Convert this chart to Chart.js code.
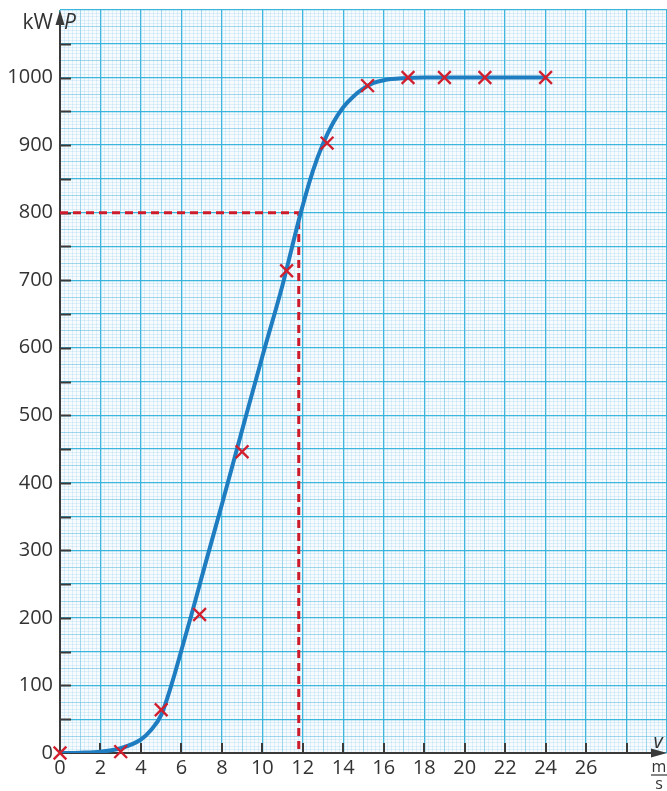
<!DOCTYPE html>
<html>
<head>
<meta charset="utf-8">
<script src="https://cdn.jsdelivr.net/npm/chart.js@4/dist/chart.umd.min.js"></script>
<style>
  html, body { margin: 0; padding: 0; background: #ffffff; }
  #wrap { width: 667px; height: 791px; position: relative; }
</style>
</head>
<body>
<div id="wrap"><canvas id="c"></canvas></div>
<script>
// Measured power of the wind turbine (crosses)
const speed = [0, 3, 5, 6.9, 9, 11.2, 13.2, 15.2, 17.2, 19, 21, 24];
const power = [0, 2, 64, 205, 446, 714, 903, 988, 1000, 1000, 1000, 1000];

// Hand-drawn characteristic curve through the measurements
const curveSpeed = [0, 1, 2, 3, 4, 4.5, 5, 5.5, 6, 6.5, 7, 8, 9, 10, 11, 11.9, 12.5, 13, 13.5, 14, 14.5, 15, 15.5, 16, 17, 18, 20, 22, 24];
const curvePower = [0, 0.5, 2, 7, 20, 34, 56, 100, 152, 205, 260, 368, 478, 587, 693, 800, 862, 902, 933, 956, 972, 984, 992, 996, 999, 1000, 1000, 1000, 1000];

// Reading: 800 kW is reached at about 11.8 m/s
const readSpeed = 11.8;
const readPower = 800;

// Labelled ticks
const xTickLabels = [0, 2, 4, 6, 8, 10, 12, 14, 16, 18, 20, 22, 24, 26];
const yTickLabels = [0, 100, 200, 300, 400, 500, 600, 700, 800, 900, 1000];

const AXIS = '#3a3a3a';
const FONT = "'Open Sans', 'Noto Sans', sans-serif";

function paperColor(level) {
  if (level === 2) return 'rgba(50,178,218,0.95)';
  if (level === 1) return 'rgba(90,185,222,0.55)';
  return 'rgba(130,195,232,0.32)';
}
function paperWidth(level) {
  return level === 2 ? 1.3 : (level === 1 ? 1 : 0.7);
}
function xLevel(v) {
  const k = Math.round(v * 5);
  return k % 10 === 0 ? 2 : (k % 5 === 0 ? 1 : 0);
}
function yLevel(v) {
  const k = Math.round(v / 5);
  return k % 10 === 0 ? 2 : (k % 5 === 0 ? 1 : 0);
}

const paperAxes = {
  id: 'paperAxes',
  beforeDraw(chart) {
    const { ctx, chartArea: a } = chart;
    ctx.save();
    ctx.fillStyle = '#f7fbfe';
    ctx.fillRect(a.left, a.top, a.right - a.left, a.bottom - a.top);
    ctx.restore();
  },
  beforeDatasetsDraw(chart) {
    const { ctx } = chart;
    const x = chart.scales.x, y = chart.scales.y;
    const x0 = x.getPixelForValue(0), y0 = y.getPixelForValue(0);
    const yTop = y.getPixelForValue(1100);
    const xEnd = x.getPixelForValue(30);
    ctx.save();
    ctx.strokeStyle = AXIS;
    ctx.fillStyle = AXIS;
    ctx.lineWidth = 2;
    // inward tick marks
    ctx.beginPath();
    for (let v = 50; v <= 1050; v += 50) {
      const py = Math.round(y.getPixelForValue(v)) + 0.5;
      ctx.moveTo(x0, py); ctx.lineTo(x0 + 11, py);
    }
    for (let v = 2; v <= 28; v += 2) {
      const px = Math.round(x.getPixelForValue(v));
      ctx.moveTo(px, y0); ctx.lineTo(px, y0 - 10);
    }
    ctx.stroke();
    // axis lines
    ctx.beginPath();
    ctx.moveTo(x0, y0 + 1); ctx.lineTo(x0, yTop + 12);
    ctx.moveTo(x0 - 1, y0); ctx.lineTo(xEnd - 12, y0);
    ctx.stroke();
    // arrow heads
    ctx.beginPath();
    ctx.moveTo(x0, yTop);
    ctx.lineTo(x0 - 4.5, yTop + 15);
    ctx.lineTo(x0 + 4.5, yTop + 15);
    ctx.closePath();
    ctx.fill();
    ctx.beginPath();
    ctx.moveTo(xEnd, y0);
    ctx.lineTo(xEnd - 16, y0 - 4.5);
    ctx.lineTo(xEnd - 16, y0 + 4.5);
    ctx.closePath();
    ctx.fill();
    ctx.restore();
  },
  afterDraw(chart) {
    const { ctx } = chart;
    const x = chart.scales.x, y = chart.scales.y;
    const x0 = x.getPixelForValue(0), y0 = y.getPixelForValue(0);
    const xEnd = x.getPixelForValue(30);
    ctx.save();
    ctx.fillStyle = '#333333';
    ctx.textBaseline = 'alphabetic';
    ctx.font = '21px ' + FONT;
    ctx.textAlign = 'right';
    ctx.fillText('kW', x0 - 7, 29);
    ctx.textAlign = 'left';
    ctx.font = 'italic 21px ' + FONT;
    ctx.fillText('P', x0 + 4, 29);
    ctx.textAlign = 'center';
    ctx.font = 'italic 20px ' + FONT;
    ctx.fillText('v', xEnd - 9, y0 - 5);
    ctx.font = '16px ' + FONT;
    ctx.fillText('m', xEnd - 8, y0 + 19);
    ctx.fillText('s', xEnd - 8, y0 + 36);
    ctx.strokeStyle = '#333333';
    ctx.lineWidth = 1.2;
    ctx.beginPath();
    ctx.moveTo(xEnd - 16, y0 + 22); ctx.lineTo(xEnd, y0 + 22);
    ctx.stroke();
    ctx.restore();
  }
};

function noScalePadding(s) {
  s.paddingLeft = 0; s.paddingRight = 0; s.paddingTop = 0; s.paddingBottom = 0;
}

new Chart(document.getElementById('c'), {
  type: 'scatter',
  data: {
    datasets: [
      {
        label: 'Messwerte',
        data: speed.map((v, i) => ({ x: v, y: power[i] })),
        showLine: false,
        pointStyle: 'crossRot',
        pointRadius: 9,
        pointBorderWidth: 2.3,
        pointBorderColor: '#d11f2e',
        pointBackgroundColor: '#d11f2e',
        clip: false
      },
      {
        label: 'Kennlinie',
        data: curveSpeed.map((v, i) => ({ x: v, y: curvePower[i] })),
        showLine: true,
        pointRadius: 0,
        borderColor: '#1e7cc0',
        borderWidth: 4,
        cubicInterpolationMode: 'monotone',
        borderCapStyle: 'round'
      },
      {
        label: 'Ablesung',
        data: [
          { x: 0, y: readPower },
          { x: readSpeed, y: readPower },
          { x: readSpeed, y: 0 }
        ],
        showLine: true,
        pointRadius: 0,
        borderColor: '#cc1b2b',
        borderWidth: 3,
        borderDash: [8, 5],
        tension: 0
      }
    ]
  },
  options: {
    responsive: true,
    maintainAspectRatio: false,
    animation: false,
    events: [],
    layout: { autoPadding: false, padding: { top: 10, right: 0, left: 0, bottom: 0 } },
    plugins: { legend: { display: false }, tooltip: { enabled: false } },
    scales: {
      x: {
        type: 'linear',
        min: 0, max: 30,
        border: { display: false },
        afterFit(s) { s.height = 38; noScalePadding(s); },
        grid: {
          drawTicks: false,
          color: c => paperColor(xLevel(c.tick.value)),
          lineWidth: c => paperWidth(xLevel(c.tick.value))
        },
        ticks: {
          stepSize: 0.2,
          maxTicksLimit: 1000,
          autoSkip: false,
          maxRotation: 0, minRotation: 0,
          padding: 3,
          color: '#333333',
          font: { family: FONT, size: 20 },
          callback: v => {
            const r = Math.round(v);
            return (Math.abs(v - r) < 1e-6 && xTickLabels.includes(r)) ? String(r) : '';
          }
        }
      },
      y: {
        type: 'linear',
        min: 0, max: 1100,
        border: { display: false },
        afterFit(s) { s.width = 60; noScalePadding(s); },
        grid: {
          drawTicks: false,
          color: c => paperColor(yLevel(c.tick.value)),
          lineWidth: c => paperWidth(yLevel(c.tick.value))
        },
        ticks: {
          stepSize: 5,
          maxTicksLimit: 1000,
          autoSkip: false,
          padding: 7,
          color: '#333333',
          font: { family: FONT, size: 20 },
          callback: v => {
            const r = Math.round(v);
            return (Math.abs(v - r) < 1e-6 && yTickLabels.includes(r)) ? String(r) : '';
          }
        }
      }
    }
  },
  plugins: [paperAxes]
});
</script>
</body>
</html>
